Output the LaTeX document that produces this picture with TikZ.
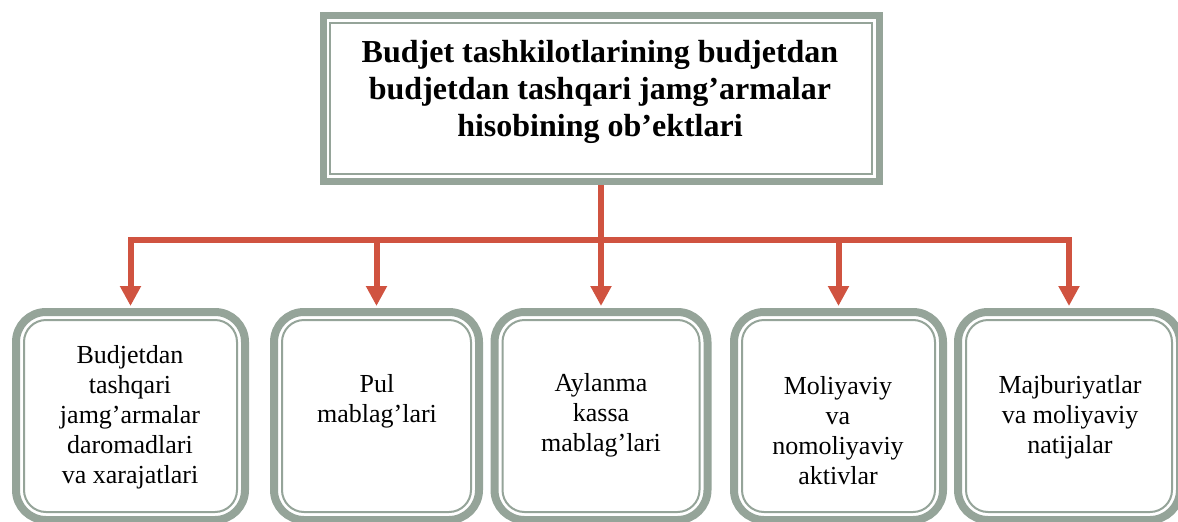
\documentclass[tikz,border=0pt]{standalone}
\usepackage{fontspec}
\setmainfont{Liberation Serif}
\usetikzlibrary{arrows.meta}
\definecolor{frame}{RGB}{149,164,153}
\definecolor{link}{RGB}{208,83,64}
\tikzset{
  titlebox/.style={draw=frame, line width=7pt, minimum width=556pt, minimum height=166pt, inner sep=0pt},
  itembox/.style={draw=frame, line width=8pt, rounded corners=30pt, minimum height=208pt, inner sep=0pt},
  innerline/.style={draw=frame, line width=2pt},
  titletext/.style={font=\bfseries\fontsize{32}{36.7}\selectfont, align=center, inner sep=0pt},
  itemtext/.style={font=\fontsize{26}{30}\selectfont, align=center, inner sep=0pt},
  conn/.style={draw=link, line width=6pt},
  tip/.style={-{Triangle[length=20pt,width=20pt]}, shorten >=2pt},
}
\begin{document}
\begin{tikzpicture}[x=1pt,y=-1pt]
\useasboundingbox (0,0) rectangle (1178,522);
\fill[white] (0,0) rectangle (1178,522);
\clip (0,0) rectangle (1178,522);

% heading frame: thick outer band plus a thin inner line
\node[titlebox] (top) at (601,98.5) {};
\draw[innerline] ([shift={(10.7,10.7)}]top.north west) rectangle ([shift={(-10.7,-10.7)}]top.south east);
\node[titletext] (ttl) at (600,92) {Budjet tashkilotlarining budjetdan\\budjetdan tashqari jamg’armalar\\hisobining ob’ektlari};

% the five object boxes
\node[itembox, minimum width=229pt] (b1) at (130.5,416) {};
\node[itembox, minimum width=205pt] (b2) at (376.5,416) {};
\node[itembox, minimum width=213pt] (b3) at (601,416) {};
\node[itembox, minimum width=209pt] (b4) at (838.5,416) {};
\node[itembox, minimum width=222pt] (b5) at (1069,416) {};
\foreach \b in {b1,b2,b3,b4,b5}
  \draw[innerline, rounded corners=22pt] ([shift={(12,12)}]\b.north west) rectangle ([shift={(-12,-12)}]\b.south east);

\node[itemtext] (t1) at (130,417) {Budjetdan\\tashqari\\jamg’armalar\\daromadlari\\va xarajatlari};
\node[itemtext] (t2) at (377,401) {Pul\\mablag’lari};
\node[itemtext] (t3) at (601,415) {Aylanma\\kassa\\mablag’lari};
\node[itemtext] (t4) at (838,431) {Moliyaviy\\va\\nomoliyaviy\\aktivlar};
\node[itemtext] (t5) at (1070,417) {Majburiyatlar\\va moliyaviy\\natijalar};

% connectors: stem, distribution bus, drops
\coordinate (bus) at (0,240);
\draw[conn] (top.south) -- (top.south |- bus);
\draw[conn, line cap=rect] (b1.north |- bus) -- (b5.north |- bus);
\foreach \b in {b1,b2,b3,b4,b5}
  \draw[conn, tip] (\b.north |- bus) -- (\b.north);
\end{tikzpicture}
\end{document}
